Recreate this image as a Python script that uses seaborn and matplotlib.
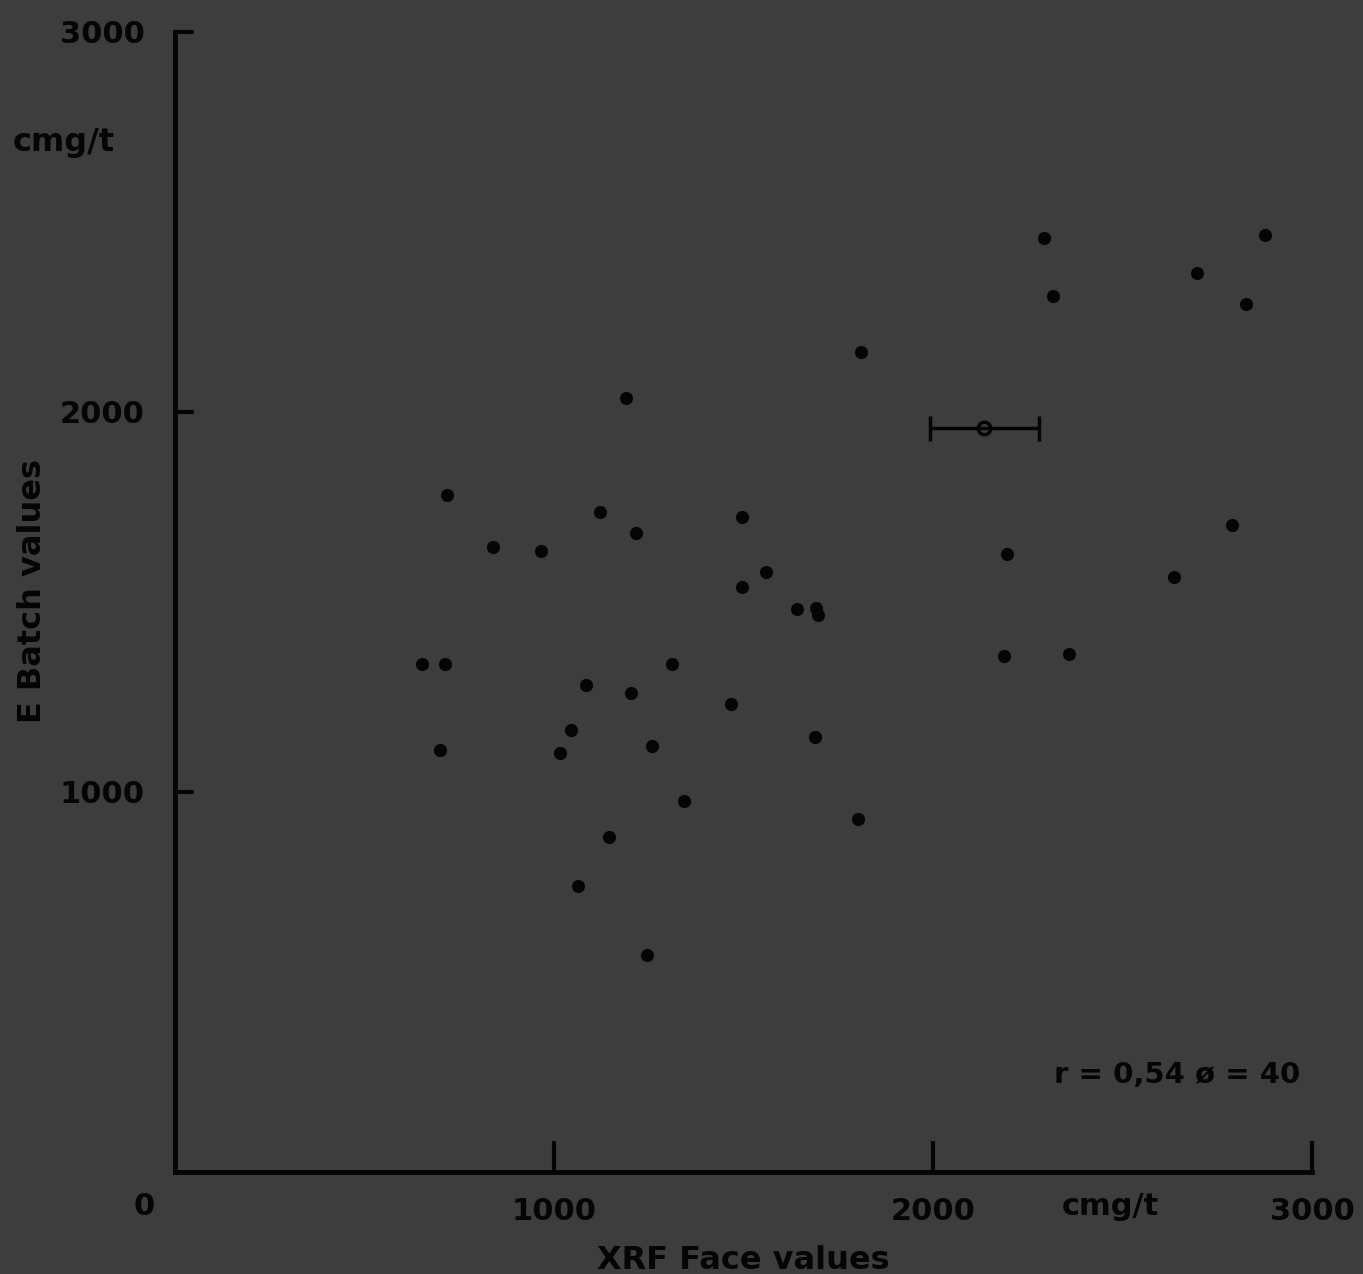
import numpy as np
import pandas as pd
import seaborn as sns
import matplotlib.pyplot as plt

# XRF face values vs E batch values (cmg/t)
xrf_face = [2293, 2876, 2697, 2317, 2826, 1810, 1190, 718, 1121, 1496,
            1216, 839, 966, 2789, 2195, 1559, 2636, 1496, 1641, 1691,
            1697, 652, 712, 1311, 2187, 2359, 1084, 1203, 1467, 1045,
            1689, 699, 1016, 1259, 1343, 1802, 1145, 1063, 1245]
e_batch = [2458, 2466, 2366, 2305, 2284, 2158, 2037, 1782, 1737, 1724,
           1682, 1645, 1634, 1703, 1626, 1579, 1566, 1539, 1482, 1484,
           1466, 1337, 1337, 1337, 1358, 1363, 1282, 1261, 1232, 1163,
           1145, 1111, 1103, 1121, 976, 929, 882, 753, 571]

# mean point with its spread
mean_x = [2135]
mean_y = [1958]
mean_xerr = [144]

x_ticks = [1000, 2000, 3000]
y_ticks = [1000, 2000, 3000]

df = pd.DataFrame({"xrf": xrf_face, "batch": e_batch})

bg = "#3d3d3d"
ink = "#050505"

sns.set_style("ticks")
plt.rcParams['font.family'] = ['DejaVu Sans']
plt.rcParams['font.weight'] = 'bold'

fig = plt.figure(figsize=(13.63, 12.74), dpi=100, facecolor=bg)
ax = fig.add_axes([0.1284, 0.0801, 0.8342, 0.8948])
ax.set_facecolor(bg)

sns.scatterplot(data=df, x="xrf", y="batch", ax=ax, color=ink,
                s=90, edgecolor=ink, linewidth=0)

ax.errorbar(mean_x, mean_y, xerr=mean_xerr, fmt='o', color=ink,
            markerfacecolor='none', markeredgecolor=ink, markersize=9,
            markeredgewidth=2.5, elinewidth=2.5, capsize=9, capthick=2.5)

ax.set_xlim(0, 3000)
ax.set_ylim(0, 3000)
ax.set_xticks(x_ticks)
ax.set_yticks(y_ticks)
ax.set_xticklabels([str(v) for v in x_ticks])
ax.set_yticklabels([str(v) for v in y_ticks])

for side in ["top", "right"]:
    ax.spines[side].set_visible(False)
for side in ["left", "bottom"]:
    ax.spines[side].set_color(ink)
    ax.spines[side].set_linewidth(3.5)

ax.tick_params(axis='both', direction='in', color=ink, width=3,
               labelsize=22, labelcolor=ink)
ax.tick_params(axis='x', length=22, pad=18)
ax.tick_params(axis='y', length=14, pad=22)

ax.set_xlabel("XRF Face values", fontsize=23, fontweight='bold',
              color=ink, labelpad=14)
ax.set_ylabel("E Batch values", fontsize=23, fontweight='bold',
              color=ink)
ax.yaxis.set_label_coords(-0.112, 0.51)

# origin label and units
ax.text(-0.027, -0.03, "0", transform=ax.transAxes, fontsize=22,
        fontweight='bold', color=ink, ha='center', va='center')
ax.text(-0.098, 0.903, "cmg/t", transform=ax.transAxes, fontsize=23,
        fontweight='bold', color=ink, ha='center', va='center')
ax.text(0.823, -0.03, "cmg/t", transform=ax.transAxes, fontsize=22,
        fontweight='bold', color=ink, ha='center', va='center')
ax.text(0.99, 0.085, "r = 0,54 ø = 40", transform=ax.transAxes,
        fontsize=21, fontweight='bold', color=ink, ha='right', va='center')

fig.savefig("out.png", dpi=100, facecolor=bg)
